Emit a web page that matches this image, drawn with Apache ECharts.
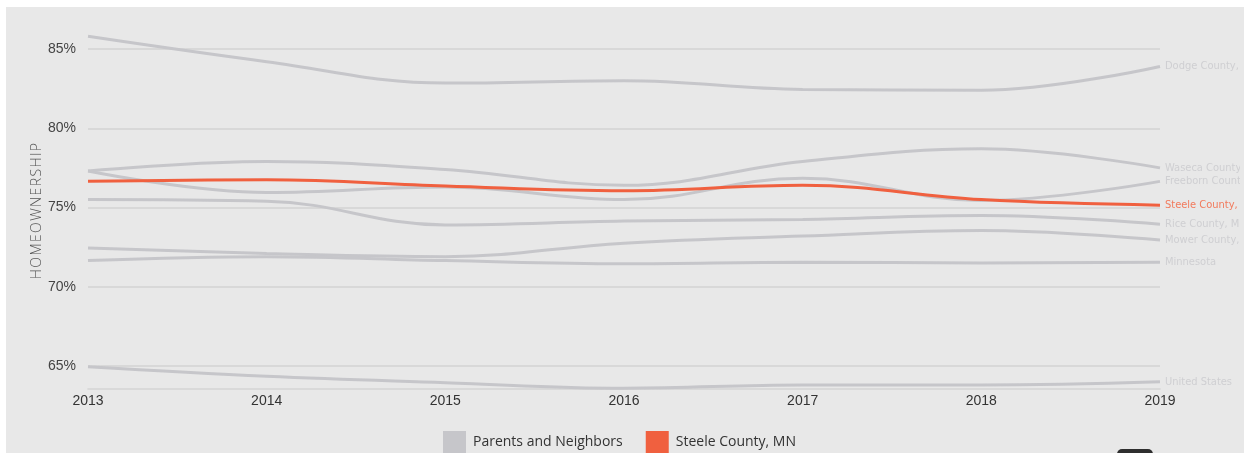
<!DOCTYPE html>
<html>
<head>
<meta charset="utf-8">
<title>Homeownership</title>
<script src="https://cdn.jsdelivr.net/npm/echarts@6/dist/echarts.min.js"></script>
<style>
  html, body { margin: 0; padding: 0; background: #ffffff; overflow: hidden; }
  #frame {
    position: absolute; left: 6px; top: 7px; width: 1238px; height: 446px;
    background: #e8e8e8; overflow: hidden;
  }
  #clip { position: absolute; left: 0; top: 0; width: 1234px; height: 446px; overflow: hidden; }
  #chart { position: absolute; left: 0; top: 0; width: 1320px; height: 446px; }
</style>
</head>
<body>
<div id="frame"><div id="clip"><div id="chart"></div></div></div>
<script>
// Homeownership rate by area, 2013-2019
const years = ['2013', '2014', '2015', '2016', '2017', '2018', '2019'];

const dodge     = [85.8, 84.2, 82.85, 83.0, 82.45, 82.4, 83.9];
const waseca    = [77.3, 77.9, 77.4, 76.4, 77.9, 78.7, 77.5];
const freeborn  = [77.3, 75.95, 76.3, 75.5, 76.85, 75.45, 76.65];
const steele    = [76.65, 76.75, 76.35, 76.05, 76.4, 75.5, 75.15];
const rice      = [75.5, 75.4, 73.9, 74.15, 74.25, 74.5, 73.95];
const mower     = [72.45, 72.1, 71.9, 72.75, 73.2, 73.55, 72.95];
const minnesota = [71.65, 71.9, 71.65, 71.45, 71.55, 71.5, 71.55];
const usa       = [64.95, 64.35, 63.95, 63.6, 63.8, 63.8, 64.0];

const yTicks = [65, 70, 75, 80, 85];

const GREY = '#c6c6ca';
const ORANGE = '#f0603f';
const LABEL_FONT = '"Liberation Sans Narrow", "DejaVu Sans Condensed", "Roboto", sans-serif';
const SMOOTH = 0.4;

function neighbor(name, data) {
  return {
    name: name,
    type: 'line',
    data: data,
    smooth: SMOOTH,
    symbol: 'none',
    lineStyle: { color: GREY, width: 3 },
    itemStyle: { color: GREY },
    emphasis: { disabled: true },
    endLabel: {
      show: true,
      formatter: name,
      color: '#cfcfd2',
      fontFamily: LABEL_FONT,
      fontSize: 11,
      distance: 5
    },
    z: 2
  };
}

const chart = echarts.init(document.getElementById('chart'), null, { renderer: 'canvas' });

chart.setOption({
  animation: false,
  backgroundColor: 'transparent',
  grid: { left: 82, right: 166, top: 26.15, bottom: 64, containLabel: false },
  legend: {
    left: 437,
    top: 424,
    padding: 0,
    itemWidth: 23,
    itemHeight: 23,
    itemGap: 23,
    icon: 'rect',
    data: ['Parents and Neighbors', 'Steele County, MN'],
    textStyle: { color: '#333333', fontSize: 14, fontFamily: '"Open Sans", "Noto Sans", sans-serif', padding: [0, 0, 0, 2] }
  },
  xAxis: {
    type: 'category',
    data: years,
    boundaryGap: false,
    axisLine: { show: true, lineStyle: { color: '#d3d3d3', width: 1.5 } },
    axisTick: { show: false },
    axisLabel: { color: '#333333', fontSize: 14, margin: 5, fontFamily: '"Liberation Sans", Arial, sans-serif' },
    splitLine: { show: false }
  },
  yAxis: {
    type: 'value',
    min: 63.55,
    max: 86,
    name: 'H\u200AO\u200AM\u200AE\u200AO\u200AW\u200AN\u200AE\u200AR\u200AS\u200AH\u200AI\u200AP',
    nameLocation: 'middle',
    nameGap: 44,
    nameMoveOverlap: false,
    nameTextStyle: { color: '#555555', fontSize: 14, fontFamily: '"Open Sans", "Noto Sans", sans-serif', fontWeight: 300 },
    axisLine: { show: false },
    axisTick: { show: false, customValues: yTicks },
    axisLabel: {
      customValues: yTicks,
      formatter: v => v + '%',
      color: '#444444',
      fontSize: 14,
      margin: 12,
      fontFamily: '"Liberation Sans", Arial, sans-serif'
    },
    splitLine: { show: true, lineStyle: { color: '#d3d3d3', width: 1.5 } }
  },
  series: [
    neighbor('Dodge County, MN', dodge),
    neighbor('Waseca County, MN', waseca),
    neighbor('Freeborn County, MN', freeborn),
    neighbor('Rice County, MN', rice),
    neighbor('Mower County, MN', mower),
    neighbor('Minnesota', minnesota),
    neighbor('United States', usa),
    {
      name: 'Parents and Neighbors',
      type: 'line',
      data: [],
      itemStyle: { color: GREY },
      lineStyle: { color: GREY }
    },
    {
      name: 'Steele County, MN',
      type: 'line',
      data: steele,
      smooth: SMOOTH,
      symbol: 'none',
      lineStyle: { color: ORANGE, width: 3 },
      itemStyle: { color: ORANGE },
      emphasis: { disabled: true },
      endLabel: {
        show: true,
        formatter: 'Steele County, MN',
        color: '#f27a5c',
        fontFamily: LABEL_FONT,
        fontSize: 11,
        distance: 5
      },
      z: 5
    }
  ],
  graphic: [
    {
      type: 'rect',
      left: 1111,
      top: 442,
      shape: { width: 36, height: 12, r: 5 },
      style: { fill: '#2e2e2e' }
    }
  ]
});
</script>
</body>
</html>
